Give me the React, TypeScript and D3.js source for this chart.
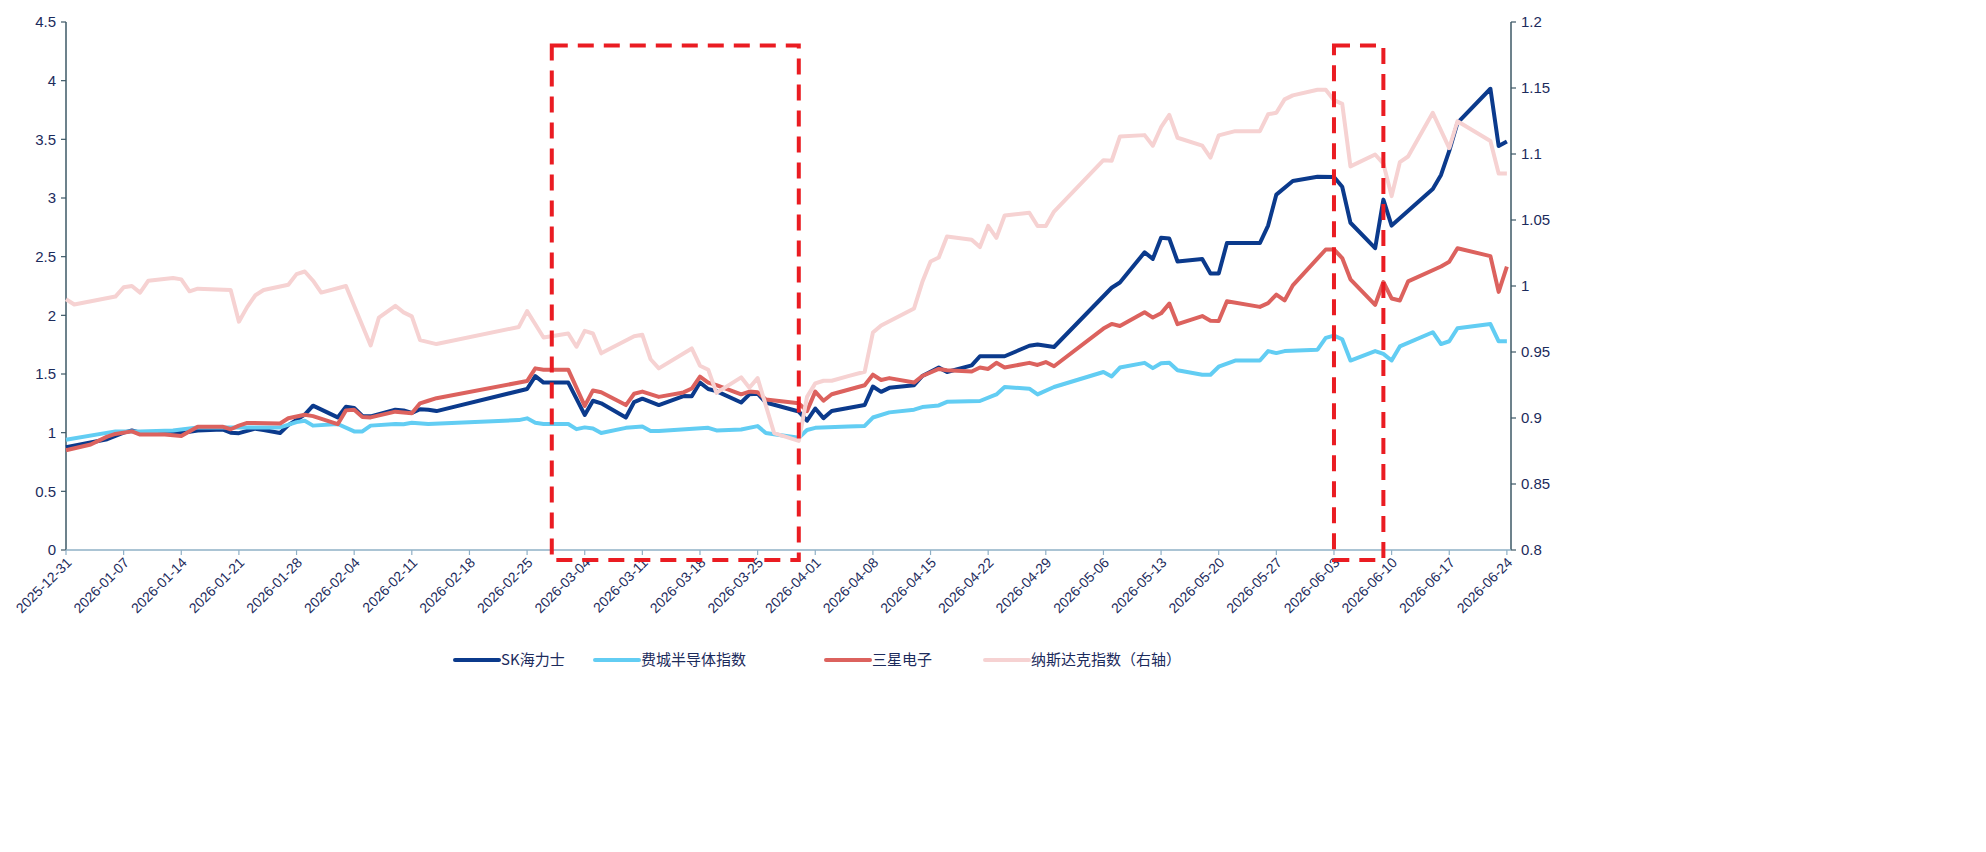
import React from "react";
import * as d3 from "d3";

// ---------- data ----------
const xTickLabels = [
  "2025-12-31", "2026-01-07", "2026-01-14", "2026-01-21", "2026-01-28", "2026-02-04",
  "2026-02-11", "2026-02-18", "2026-02-25", "2026-03-04", "2026-03-11", "2026-03-18",
  "2026-03-25", "2026-04-01", "2026-04-08", "2026-04-15", "2026-04-22", "2026-04-29",
  "2026-05-06", "2026-05-13", "2026-05-20", "2026-05-27", "2026-06-03", "2026-06-10",
  "2026-06-17", "2026-06-24",
];
const leftTicks = [0, 0.5, 1, 1.5, 2, 2.5, 3, 3.5, 4, 4.5];
const rightTicks = [0.8, 0.85, 0.9, 0.95, 1, 1.05, 1.1, 1.15, 1.2];

const skHynix: [string, number][] = [
  ["2025-12-31", 0.876], ["2026-01-05", 0.944], ["2026-01-07", 1.0], ["2026-01-08", 1.018],
  ["2026-01-09", 1.0], ["2026-01-14", 0.997], ["2026-01-16", 1.018], ["2026-01-19", 1.027],
  ["2026-01-20", 1.0], ["2026-01-21", 0.996], ["2026-01-23", 1.034], ["2026-01-24", 1.022],
  ["2026-01-26", 0.997], ["2026-01-27", 1.064], ["2026-01-29", 1.154], ["2026-01-30", 1.23],
  ["2026-02-02", 1.13], ["2026-02-03", 1.22], ["2026-02-04", 1.21], ["2026-02-05", 1.143],
  ["2026-02-06", 1.139], ["2026-02-09", 1.195], ["2026-02-10", 1.19], ["2026-02-11", 1.168],
  ["2026-02-12", 1.2], ["2026-02-13", 1.195], ["2026-02-14", 1.184], ["2026-02-25", 1.372],
  ["2026-02-26", 1.482], ["2026-02-27", 1.427], ["2026-03-02", 1.427], ["2026-03-04", 1.151],
  ["2026-03-05", 1.272], ["2026-03-06", 1.25], ["2026-03-09", 1.129], ["2026-03-10", 1.261],
  ["2026-03-11", 1.29], ["2026-03-13", 1.235], ["2026-03-16", 1.312], ["2026-03-17", 1.31],
  ["2026-03-18", 1.427], ["2026-03-19", 1.372], ["2026-03-20", 1.354], ["2026-03-23", 1.257],
  ["2026-03-24", 1.327], ["2026-03-25", 1.332], ["2026-03-26", 1.257], ["2026-03-30", 1.18],
  ["2026-03-31", 1.102], ["2026-04-01", 1.206], ["2026-04-02", 1.124], ["2026-04-03", 1.184],
  ["2026-04-07", 1.236], ["2026-04-08", 1.393], ["2026-04-09", 1.348], ["2026-04-10", 1.382],
  ["2026-04-13", 1.404], ["2026-04-14", 1.483], ["2026-04-16", 1.555], ["2026-04-17", 1.517],
  ["2026-04-20", 1.573], ["2026-04-21", 1.651], ["2026-04-24", 1.651], ["2026-04-27", 1.741],
  ["2026-04-28", 1.752], ["2026-04-30", 1.73], ["2026-05-07", 2.235], ["2026-05-08", 2.28],
  ["2026-05-11", 2.537], ["2026-05-12", 2.481], ["2026-05-13", 2.661], ["2026-05-14", 2.654],
  ["2026-05-15", 2.459], ["2026-05-18", 2.481], ["2026-05-19", 2.356], ["2026-05-20", 2.356],
  ["2026-05-21", 2.616], ["2026-05-25", 2.616], ["2026-05-26", 2.765], ["2026-05-27", 3.029],
  ["2026-05-29", 3.145], ["2026-06-01", 3.181], ["2026-06-03", 3.179], ["2026-06-04", 3.096],
  ["2026-06-05", 2.789], ["2026-06-08", 2.572], ["2026-06-09", 2.986], ["2026-06-10", 2.765],
  ["2026-06-15", 3.077], ["2026-06-16", 3.197], ["2026-06-17", 3.401], ["2026-06-18", 3.641],
  ["2026-06-22", 3.931], ["2026-06-23", 3.443], ["2026-06-24", 3.481],
];

const phlxSemi: [string, number][] = [
  ["2025-12-31", 0.939], ["2026-01-06", 1.011], ["2026-01-09", 1.011], ["2026-01-13", 1.018],
  ["2026-01-16", 1.045], ["2026-01-19", 1.045], ["2026-01-26", 1.045], ["2026-01-28", 1.09],
  ["2026-01-29", 1.101], ["2026-01-30", 1.06], ["2026-02-02", 1.074], ["2026-02-04", 1.011],
  ["2026-02-05", 1.011], ["2026-02-06", 1.06], ["2026-02-09", 1.074], ["2026-02-10", 1.072],
  ["2026-02-11", 1.084], ["2026-02-13", 1.074], ["2026-02-24", 1.107], ["2026-02-25", 1.122],
  ["2026-02-26", 1.085], ["2026-02-27", 1.074], ["2026-03-02", 1.074], ["2026-03-03", 1.03],
  ["2026-03-04", 1.045], ["2026-03-05", 1.036], ["2026-03-06", 0.997], ["2026-03-09", 1.041],
  ["2026-03-11", 1.052], ["2026-03-12", 1.014], ["2026-03-13", 1.014], ["2026-03-19", 1.041],
  ["2026-03-20", 1.019], ["2026-03-23", 1.027], ["2026-03-25", 1.056], ["2026-03-26", 0.997],
  ["2026-03-27", 0.986], ["2026-03-30", 0.957], ["2026-03-31", 1.023], ["2026-04-01", 1.041],
  ["2026-04-05", 1.052], ["2026-04-07", 1.057], ["2026-04-08", 1.129], ["2026-04-10", 1.173],
  ["2026-04-13", 1.196], ["2026-04-14", 1.218], ["2026-04-16", 1.232], ["2026-04-17", 1.263],
  ["2026-04-21", 1.27], ["2026-04-23", 1.326], ["2026-04-24", 1.389], ["2026-04-27", 1.375],
  ["2026-04-28", 1.326], ["2026-04-30", 1.389], ["2026-05-06", 1.517], ["2026-05-07", 1.479],
  ["2026-05-08", 1.555], ["2026-05-11", 1.595], ["2026-05-12", 1.55], ["2026-05-13", 1.591],
  ["2026-05-14", 1.595], ["2026-05-15", 1.532], ["2026-05-18", 1.494], ["2026-05-19", 1.494],
  ["2026-05-20", 1.562], ["2026-05-22", 1.615], ["2026-05-25", 1.615], ["2026-05-26", 1.695],
  ["2026-05-27", 1.678], ["2026-05-28", 1.695], ["2026-06-01", 1.707], ["2026-06-02", 1.808],
  ["2026-06-03", 1.827], ["2026-06-04", 1.796], ["2026-06-05", 1.615], ["2026-06-08", 1.695],
  ["2026-06-09", 1.671], ["2026-06-10", 1.615], ["2026-06-11", 1.735], ["2026-06-15", 1.856],
  ["2026-06-16", 1.755], ["2026-06-17", 1.779], ["2026-06-18", 1.89], ["2026-06-22", 1.926],
  ["2026-06-23", 1.779], ["2026-06-24", 1.779],
];

const samsung: [string, number][] = [
  ["2025-12-31", 0.85], ["2026-01-03", 0.899], ["2026-01-05", 0.966], ["2026-01-06", 0.989],
  ["2026-01-08", 1.011], ["2026-01-09", 0.984], ["2026-01-12", 0.984], ["2026-01-14", 0.971],
  ["2026-01-16", 1.051], ["2026-01-19", 1.051], ["2026-01-20", 1.029], ["2026-01-21", 1.06],
  ["2026-01-22", 1.083], ["2026-01-26", 1.078], ["2026-01-27", 1.123], ["2026-01-29", 1.152],
  ["2026-01-30", 1.141], ["2026-02-02", 1.072], ["2026-02-03", 1.19], ["2026-02-04", 1.195],
  ["2026-02-05", 1.134], ["2026-02-06", 1.13], ["2026-02-09", 1.179], ["2026-02-11", 1.165],
  ["2026-02-12", 1.25], ["2026-02-13", 1.272], ["2026-02-14", 1.294], ["2026-02-25", 1.44],
  ["2026-02-26", 1.548], ["2026-02-27", 1.537], ["2026-03-02", 1.537], ["2026-03-04", 1.228],
  ["2026-03-05", 1.36], ["2026-03-06", 1.345], ["2026-03-09", 1.235], ["2026-03-10", 1.332],
  ["2026-03-11", 1.35], ["2026-03-13", 1.305], ["2026-03-16", 1.343], ["2026-03-17", 1.376],
  ["2026-03-18", 1.477], ["2026-03-19", 1.427], ["2026-03-20", 1.405], ["2026-03-23", 1.327],
  ["2026-03-24", 1.35], ["2026-03-25", 1.345], ["2026-03-26", 1.283], ["2026-03-30", 1.25],
  ["2026-03-31", 1.184], ["2026-04-01", 1.35], ["2026-04-02", 1.272], ["2026-04-03", 1.327],
  ["2026-04-07", 1.404], ["2026-04-08", 1.494], ["2026-04-09", 1.449], ["2026-04-10", 1.465],
  ["2026-04-13", 1.427], ["2026-04-14", 1.483], ["2026-04-16", 1.543], ["2026-04-17", 1.532],
  ["2026-04-20", 1.521], ["2026-04-21", 1.555], ["2026-04-22", 1.543], ["2026-04-23", 1.595],
  ["2026-04-24", 1.555], ["2026-04-27", 1.595], ["2026-04-28", 1.577], ["2026-04-29", 1.602],
  ["2026-04-30", 1.566], ["2026-05-06", 1.887], ["2026-05-07", 1.927], ["2026-05-08", 1.909],
  ["2026-05-11", 2.026], ["2026-05-12", 1.981], ["2026-05-13", 2.017], ["2026-05-14", 2.1],
  ["2026-05-15", 1.925], ["2026-05-18", 1.994], ["2026-05-19", 1.954], ["2026-05-20", 1.952],
  ["2026-05-21", 2.12], ["2026-05-25", 2.072], ["2026-05-26", 2.104], ["2026-05-27", 2.176],
  ["2026-05-28", 2.127], ["2026-05-29", 2.255], ["2026-06-02", 2.561], ["2026-06-03", 2.561],
  ["2026-06-04", 2.488], ["2026-06-05", 2.307], ["2026-06-08", 2.09], ["2026-06-09", 2.284],
  ["2026-06-10", 2.144], ["2026-06-11", 2.127], ["2026-06-12", 2.289], ["2026-06-16", 2.416],
  ["2026-06-17", 2.457], ["2026-06-18", 2.572], ["2026-06-22", 2.505], ["2026-06-23", 2.2],
  ["2026-06-24", 2.416],
];

const nasdaq: [string, number][] = [
  ["2025-12-31", 0.99], ["2026-01-01", 0.986], ["2026-01-06", 0.992], ["2026-01-07", 0.999],
  ["2026-01-08", 1.0], ["2026-01-09", 0.995], ["2026-01-10", 1.004], ["2026-01-13", 1.006],
  ["2026-01-14", 1.005], ["2026-01-15", 0.996], ["2026-01-16", 0.998], ["2026-01-20", 0.997],
  ["2026-01-21", 0.973], ["2026-01-22", 0.984], ["2026-01-23", 0.993], ["2026-01-24", 0.997],
  ["2026-01-27", 1.001], ["2026-01-28", 1.009], ["2026-01-29", 1.011], ["2026-01-30", 1.004],
  ["2026-01-31", 0.995], ["2026-02-03", 1.0], ["2026-02-06", 0.955], ["2026-02-07", 0.976],
  ["2026-02-09", 0.985], ["2026-02-10", 0.98], ["2026-02-11", 0.977], ["2026-02-12", 0.959],
  ["2026-02-14", 0.956], ["2026-02-24", 0.969], ["2026-02-25", 0.981], ["2026-02-26", 0.971],
  ["2026-02-27", 0.961], ["2026-03-02", 0.964], ["2026-03-03", 0.954], ["2026-03-04", 0.966],
  ["2026-03-05", 0.964], ["2026-03-06", 0.949], ["2026-03-10", 0.962], ["2026-03-11", 0.963],
  ["2026-03-12", 0.9445], ["2026-03-13", 0.9376], ["2026-03-17", 0.9527], ["2026-03-18", 0.9396],
  ["2026-03-19", 0.9366], ["2026-03-20", 0.919], ["2026-03-23", 0.9308], ["2026-03-24", 0.9229],
  ["2026-03-25", 0.9302], ["2026-03-27", 0.8886], ["2026-03-30", 0.8827], ["2026-03-31", 0.916],
  ["2026-04-01", 0.9262], ["2026-04-02", 0.9282], ["2026-04-03", 0.9282], ["2026-04-05", 0.9317],
  ["2026-04-07", 0.935], ["2026-04-08", 0.9647], ["2026-04-09", 0.97], ["2026-04-13", 0.983],
  ["2026-04-14", 1.003], ["2026-04-15", 1.0186], ["2026-04-16", 1.0216], ["2026-04-17", 1.0375],
  ["2026-04-20", 1.0351], ["2026-04-21", 1.0295], ["2026-04-22", 1.0455], ["2026-04-23", 1.0365],
  ["2026-04-24", 1.0534], ["2026-04-27", 1.0555], ["2026-04-28", 1.0455], ["2026-04-29", 1.0455],
  ["2026-04-30", 1.0564], ["2026-05-06", 1.0953], ["2026-05-07", 1.0949], ["2026-05-08", 1.1132],
  ["2026-05-11", 1.1143], ["2026-05-12", 1.1063], ["2026-05-13", 1.1203], ["2026-05-14", 1.1296],
  ["2026-05-15", 1.1123], ["2026-05-18", 1.1063], ["2026-05-19", 1.0973], ["2026-05-20", 1.1141],
  ["2026-05-22", 1.1173], ["2026-05-25", 1.1173], ["2026-05-26", 1.1301], ["2026-05-27", 1.1312],
  ["2026-05-28", 1.1414], ["2026-05-29", 1.1444], ["2026-06-01", 1.1487], ["2026-06-02", 1.1487],
  ["2026-06-03", 1.1408], ["2026-06-04", 1.138], ["2026-06-05", 1.0906], ["2026-06-08", 1.0996],
  ["2026-06-09", 1.0927], ["2026-06-10", 1.0681], ["2026-06-11", 1.0938], ["2026-06-12", 1.0981],
  ["2026-06-15", 1.1312], ["2026-06-17", 1.1045], ["2026-06-18", 1.1248], ["2026-06-22", 1.1098],
  ["2026-06-23", 1.0852], ["2026-06-24", 1.0852],
];

// highlighted periods (start, end dates)
const highlightPeriods: [string, string][] = [
  ["2026-02-28", "2026-03-30"],
  ["2026-06-03", "2026-06-09"],
];

const seriesNames = ["SK海力士", "费城半导体指数", "三星电子", "纳斯达克指数（右轴）"];
const seriesColors = ["#0b3a8c", "#62cdf3", "#dc625e", "#f6d2d2"];

// ---------- chart ----------
const W = 1986;
const H = 852;
const M = { left: 66, right: 1511, top: 22, bottom: 550 };
const parse = d3.utcParse("%Y-%m-%d");
const TEXT = "#1c2b5c";
const FONT = "'Liberation Sans', Arial, 'Noto Sans CJK SC', sans-serif";

export default function App() {
  const start = parse(xTickLabels[0]) as Date;
  const end = d3.utcHour.offset(parse(xTickLabels[xTickLabels.length - 1]) as Date, 12);
  const x = d3.scaleUtc().domain([start, end]).range([M.left, M.right]);
  const yL = d3.scaleLinear().domain([0, 4.5]).range([M.bottom, M.top]);
  const yR = d3.scaleLinear().domain([0.8, 1.2]).range([M.bottom, M.top]);

  const lineL = d3
    .line<[string, number]>()
    .x((d) => x(parse(d[0]) as Date))
    .y((d) => yL(d[1]));
  const lineR = d3
    .line<[string, number]>()
    .x((d) => x(parse(d[0]) as Date))
    .y((d) => yR(d[1]));

  const series = [
    { data: skHynix, gen: lineL },
    { data: phlxSemi, gen: lineL },
    { data: samsung, gen: lineL },
    { data: nasdaq, gen: lineR },
  ];

  const legendX = [455, 595, 826, 985];
  const legendY = 660;

  return (
    <svg
      width={W}
      height={H}
      style={{ position: "absolute", left: 0, top: 0, display: "block", background: "#fff" }}
      fontFamily={FONT}
    >
      <rect x={0} y={0} width={W} height={H} fill="#fff" />

      {/* left axis */}
      <line x1={M.left} x2={M.left} y1={yL(4.5)} y2={yL(0)} stroke="#3d5866" strokeWidth={1.5} />
      {leftTicks.map((t) => (
        <g key={"l" + t} transform={`translate(${M.left},${yL(t)})`}>
          <line x1={-5} x2={0} stroke="#3d5866" strokeWidth={1.2} />
          <text x={-10} dy="0.35em" textAnchor="end" fontSize={15} fill={TEXT}>
            {t}
          </text>
        </g>
      ))}

      {/* right axis */}
      <line x1={M.right} x2={M.right} y1={yR(1.2)} y2={yR(0.8)} stroke="#3d5866" strokeWidth={1.5} />
      {rightTicks.map((t) => (
        <g key={"r" + t} transform={`translate(${M.right},${yR(t)})`}>
          <line x1={0} x2={5} stroke="#3d5866" strokeWidth={1.2} />
          <text x={10} dy="0.35em" textAnchor="start" fontSize={15} fill={TEXT}>
            {t}
          </text>
        </g>
      ))}

      {/* x axis */}
      <line x1={M.left} x2={M.right} y1={M.bottom} y2={M.bottom} stroke="#8fb0c6" strokeWidth={1.5} />
      {xTickLabels.map((s) => {
        const px = x(parse(s) as Date);
        return (
          <g key={s} transform={`translate(${px},${M.bottom})`}>
            <line y1={0} y2={5} stroke="#8fb0c6" strokeWidth={1.2} />
            <text
              transform="translate(3,10) rotate(-45)"
              textAnchor="end"
              dy="0.35em"
              fontSize={14}
              fill={TEXT}
            >
              {s}
            </text>
          </g>
        );
      })}

      {/* series */}
      {series.map((s, i) => (
        <path
          key={seriesNames[i]}
          d={s.gen(s.data) || ""}
          fill="none"
          stroke={seriesColors[i]}
          strokeWidth={4}
          strokeLinejoin="round"
          strokeLinecap="butt"
        />
      ))}

      {/* highlight boxes */}
      {highlightPeriods.map(([a, b]) => {
        const x0 = x(parse(a) as Date);
        const x1 = x(parse(b) as Date);
        const y0 = yL(4.3);
        const y1 = M.bottom + 10;
        return (
          <rect
            key={a}
            x={x0}
            y={y0}
            width={x1 - x0}
            height={y1 - y0}
            fill="none"
            stroke="#ea1c22"
            strokeWidth={4}
            strokeDasharray="16 10"
          />
        );
      })}

      {/* legend */}
      {seriesNames.map((n, i) => (
        <g key={"lg" + n} transform={`translate(${legendX[i]},${legendY})`}>
          <line x1={0} x2={44} y1={0} y2={0} stroke={seriesColors[i]} strokeWidth={4} strokeLinecap="round" />
          <text x={46} dy="0.35em" fontSize={15} fill={TEXT} fontFamily="'Noto Sans CJK SC', sans-serif">
            {n}
          </text>
        </g>
      ))}
    </svg>
  );
}
